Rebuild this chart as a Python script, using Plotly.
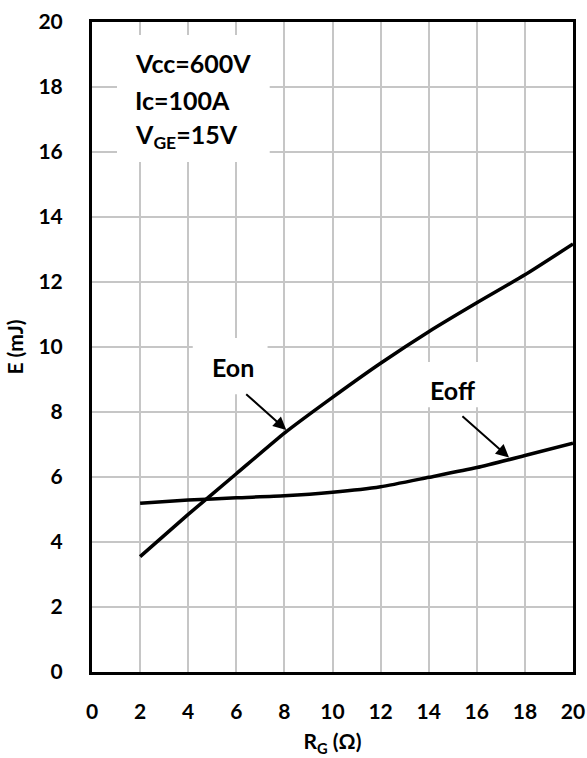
import plotly.graph_objects as go

rg = [2, 4, 6, 8, 10, 12, 14, 16, 18, 20]
eon = [3.55, 4.85, 6.1, 7.35, 8.45, 9.5, 10.47, 11.36, 12.22, 13.17]
eoff = [5.19, 5.29, 5.36, 5.42, 5.53, 5.7, 5.99, 6.29, 6.66, 7.04]

x_ticks = list(range(0, 21, 2))
y_ticks = list(range(0, 21, 2))

FONT = "Lato"

fig = go.Figure()
fig.add_trace(go.Scatter(x=rg, y=eon, mode="lines", name="Eon",
                         line=dict(color="black", width=3.5, shape="spline", smoothing=0.5)))
fig.add_trace(go.Scatter(x=rg, y=eoff, mode="lines", name="Eoff",
                         line=dict(color="black", width=3.5, shape="spline", smoothing=0.6)))

# white boxes behind labels (interrupt gridlines)
boxes = [(1.04, 7.39, 15.69, 19.6), (4.19, 7.3, 8.55, 10.28), (13.6, 16.3, 8.15, 9.54)]
for x0, x1, y0, y1 in boxes:
    fig.add_shape(type="rect", xref="x", yref="y", x0=x0, x1=x1, y0=y0, y1=y1,
                  fillcolor="white", line=dict(width=0), layer="between")

tfont = dict(family=FONT, size=25, color="black", weight="bold")
for txt, yy in [("Vcc=600V", 18.73), ("Ic=100A", 17.6), ("V<sub>GE</sub>=15V", 16.5)]:
    fig.add_annotation(x=1.72, y=yy, xref="x", yref="y", text=txt, showarrow=False,
                       xanchor="left", yanchor="middle", font=tfont)

fig.add_annotation(x=5.88, y=9.39, xref="x", yref="y", text="Eon", showarrow=False, font=tfont)
fig.add_annotation(x=15.0, y=8.68, xref="x", yref="y", text="Eoff", showarrow=False, font=tfont)

for (tx, ty, hx, hy) in [(6.35, 8.59, 8.08, 7.45), (15.34, 7.91, 17.34, 6.6)]:
    fig.add_annotation(x=hx, y=hy, xref="x", yref="y", ax=tx, ay=ty, axref="x", ayref="y",
                       text="", showarrow=True, arrowhead=2, arrowsize=1.3, arrowwidth=2,
                       arrowcolor="black", standoff=0)

axis_common = dict(showline=True, linecolor="black", linewidth=3, mirror=True,
                   showgrid=True, gridcolor="#c6c6c6", gridwidth=1.5, zeroline=False,
                   ticks="", tickfont=dict(family=FONT, size=21, color="black", weight="bold"))

fig.update_xaxes(range=[0, 20], tickvals=x_ticks, ticktext=[str(v) for v in x_ticks],
                 ticklabelstandoff=19,
                 title=dict(text="R<sub>G</sub> (Ω)", standoff=13,
                            font=dict(family=FONT, size=21, color="black", weight="bold")),
                 **axis_common)
fig.update_yaxes(range=[0, 20], tickvals=y_ticks, ticktext=[str(v) for v in y_ticks],
                 ticklabelstandoff=22,
                 title=dict(text="E (mJ)", standoff=10,
                            font=dict(family=FONT, size=21, color="black", weight="bold")),
                 **axis_common)

fig.update_layout(width=587, height=758, margin=dict(l=92, r=14, t=22, b=86, autoexpand=False),
                  paper_bgcolor="white", plot_bgcolor="white", showlegend=False)

fig.write_html("out.html")
